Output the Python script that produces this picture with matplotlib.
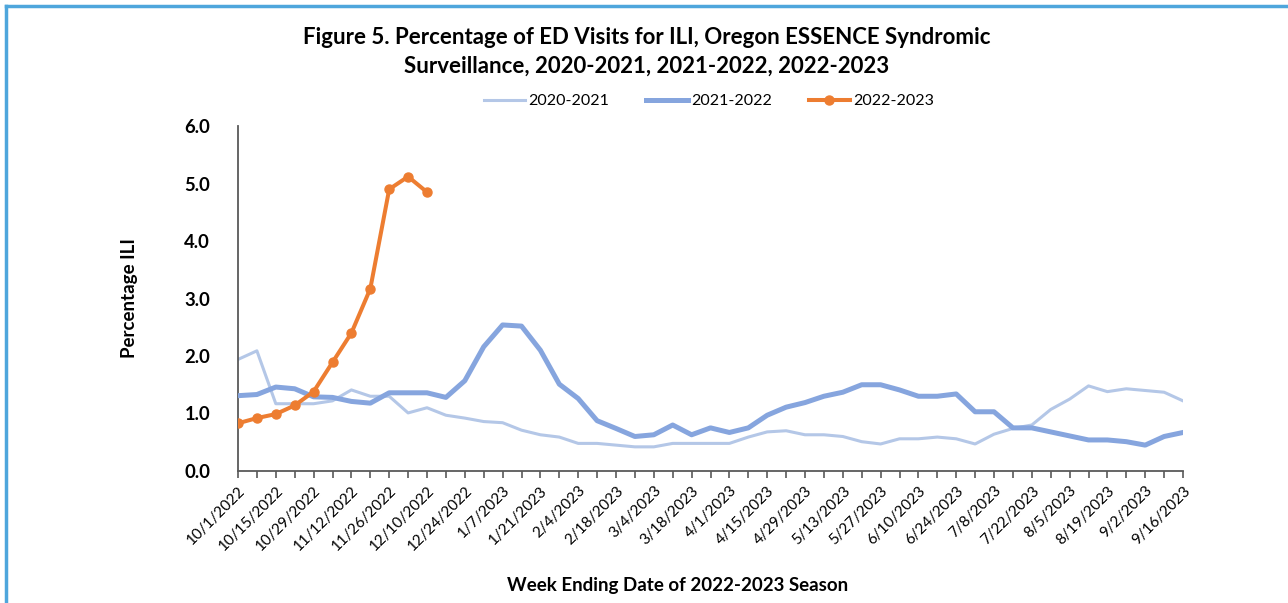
import numpy as np
import pandas as pd
import matplotlib
matplotlib.use("Agg")
from matplotlib import pyplot as plt
from matplotlib.lines import Line2D

plt.rcParams['font.family'] = ['Lato', 'DejaVu Sans']

# week ending dates of the 2022-2023 season (x categories)
week_ending = pd.date_range("2022-10-01", "2023-09-16", freq="7D")

ili_2020_2021 = [1.94, 2.09, 1.17, 1.17, 1.17, 1.22, 1.41, 1.30, 1.30, 1.01,
                 1.10, 0.97, 0.92, 0.86, 0.84, 0.71, 0.63, 0.59, 0.48, 0.48,
                 0.45, 0.42, 0.42, 0.48, 0.48, 0.48, 0.48, 0.59, 0.68, 0.70,
                 0.63, 0.63, 0.60, 0.51, 0.47, 0.56, 0.56, 0.59, 0.56, 0.47,
                 0.64, 0.74, 0.80, 1.07, 1.25, 1.48, 1.38, 1.43, 1.40, 1.37,
                 1.22]
ili_2021_2022 = [1.31, 1.33, 1.46, 1.43, 1.29, 1.28, 1.21, 1.18, 1.36, 1.36,
                 1.36, 1.28, 1.57, 2.16, 2.54, 2.52, 2.10, 1.51, 1.26, 0.875,
                 0.74, 0.60, 0.63, 0.80, 0.63, 0.75, 0.67, 0.75, 0.97, 1.11,
                 1.19, 1.30, 1.37, 1.50, 1.50, 1.41, 1.30, 1.30, 1.34, 1.03,
                 1.03, 0.75, 0.75, 0.68, 0.61, 0.54, 0.54, 0.51, 0.45, 0.60,
                 0.67]
ili_2022_2023 = [0.83, 0.92, 0.99, 1.14, 1.38, 1.89, 2.40, 3.17, 4.90, 5.12,
                 4.85]

season_labels = ["2020-2021", "2021-2022", "2022-2023"]
y_ticks = [0.0, 1.0, 2.0, 3.0, 4.0, 5.0, 6.0]

c_light = "#b4c7e7"
c_mid = "#86a5de"
c_orange = "#ed7d31"
c_axis = "#595959"

fig = plt.figure(figsize=(12.88, 6.03), dpi=100)
ax = fig.add_axes([238/1288, 1-471/603, 945/1288, 345/603])

ax.plot(week_ending, ili_2020_2021, color=c_light, lw=2.2, zorder=2,
        label=season_labels[0])
ax.plot(week_ending, ili_2021_2022, color=c_mid, lw=3.6, zorder=3,
        label=season_labels[1])
ax.plot(week_ending[:len(ili_2022_2023)], ili_2022_2023, color=c_orange,
        lw=2.9, marker="o", ms=6.5, zorder=4, label=season_labels[2])

ax.set_xlim(week_ending[0], week_ending[-1])
ax.set_ylim(0, 6)
ax.set_yticks(y_ticks)
ax.set_yticklabels([f"{v:.1f}" for v in y_ticks], fontsize=13.3,
                   fontweight="bold")
ax.tick_params(axis="y", length=0, pad=20)

ax.set_xticks(week_ending[::2])
ax.set_xticklabels([f"{d.month}/{d.day}/{d.year}" for d in week_ending[::2]],
                   rotation=45, ha="right", rotation_mode="anchor",
                   fontsize=11)
ax.set_xticks(week_ending[1::2], minor=True)
ax.tick_params(axis="x", which="both", direction="out", length=5, width=1.2,
               color=c_axis, pad=4)

for s in ["top", "right"]:
    ax.spines[s].set_visible(False)
for s in ["left", "bottom"]:
    ax.spines[s].set_color(c_axis)
    ax.spines[s].set_linewidth(1.3)

ax.set_ylabel("Percentage ILI", fontsize=13.5, fontweight="bold")
ax.yaxis.set_label_coords(-(238-138)/945, 0.5)

fig.text(678/1288, 1-585/603, "Week Ending Date of 2022-2023 Season",
         ha="center", va="center", fontsize=13.5, fontweight="bold")

fig.text(647/1288, 1-37/603,
         "Figure 5. Percentage of ED Visits for ILI, Oregon ESSENCE Syndromic",
         ha="center", va="center", fontsize=16, fontweight="bold")
fig.text(647/1288, 1-66/603,
         "Surveillance, 2020-2021, 2021-2022, 2022-2023",
         ha="center", va="center", fontsize=16, fontweight="bold")

fig.legend(loc="center", bbox_to_anchor=(709/1288, 1-101/603), ncol=3,
           frameon=False, fontsize=11.5, handlelength=2.6, handletextpad=0.2,
           columnspacing=2.3)

# blue frame on top and left
fig.add_artist(Line2D([6/1288, 1], [1-6/603, 1-6/603], color="#4ea6dc",
                      lw=2.5))
fig.add_artist(Line2D([6/1288, 6/1288], [0, 1-6/603], color="#4ea6dc",
                      lw=2.5))

fig.savefig("out.png", dpi=100)
